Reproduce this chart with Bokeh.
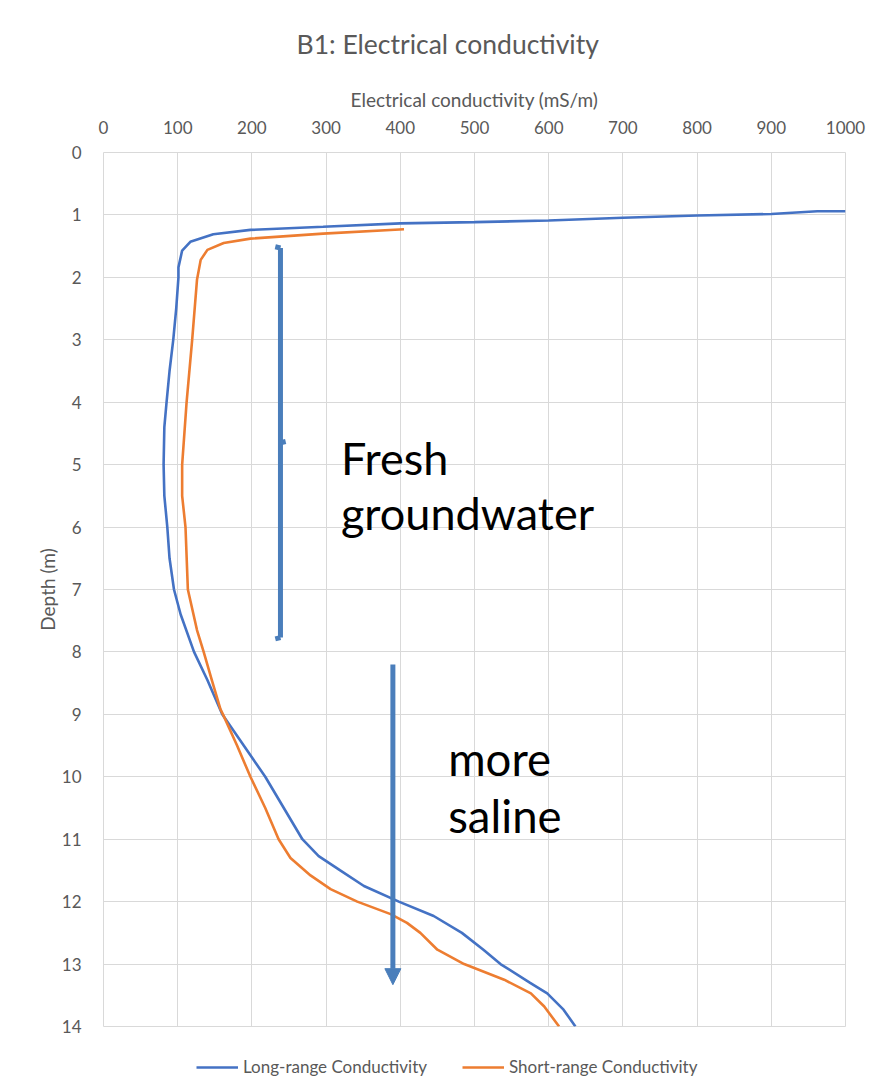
from bokeh.plotting import figure
from bokeh.layouts import column
from bokeh.models import Range1d, FixedTicker, Legend, LegendItem, Arrow, NormalHead, Title
from bokeh.core.properties import value
from bokeh.embed import file_html
from bokeh.resources import INLINE

# ---- data ----
long_x = [1000, 962, 900, 800, 700, 600, 500, 400, 296, 198, 148, 117, 106, 101, 101,
          98, 94, 89, 85, 82, 81, 82, 86, 89, 95, 104, 122, 140, 160, 189, 218, 243,
          268, 290, 319, 351, 398, 445, 483, 512, 535, 575, 598, 620, 636]
long_d = [0.94, 0.94, 0.985, 1.01, 1.045, 1.09, 1.115, 1.135, 1.19, 1.24, 1.31, 1.43, 1.57, 1.84, 2.0,
          2.5, 3.0, 3.5, 4.0, 4.4, 5.0, 5.5, 6.0, 6.5, 7.0, 7.4, 8.0, 8.45, 9.0, 9.5, 10.0, 10.5,
          11.0, 11.27, 11.5, 11.75, 12.0, 12.23, 12.5, 12.77, 13.0, 13.3, 13.47, 13.73, 14.0]

short_x = [405, 296, 198, 162, 140, 131, 126, 119.5, 112, 106, 106, 110.5, 113.7, 126, 135,
           146, 157.7, 161, 180, 198, 218, 236, 252, 279, 306, 342, 387, 409, 427, 450, 486,
           540, 576, 594, 614]
short_d = [1.23, 1.30, 1.38, 1.45, 1.56, 1.72, 2.04, 3.0, 4.0, 5.0, 5.5, 6.0, 7.0, 7.65, 8.0,
           8.45, 8.92, 9.0, 9.5, 10.0, 10.5, 11.0, 11.3, 11.58, 11.8, 12.0, 12.2, 12.34, 12.5, 12.77, 13.0,
           13.25, 13.47, 13.68, 14.0]

x_ticks = [0, 100, 200, 300, 400, 500, 600, 700, 800, 900, 1000]
y_ticks = list(range(0, 15))

title_text = "B1: Electrical conductivity"
x_label = "Electrical conductivity (mS/m)"
y_label = "Depth (m)"
series_names = ["Long-range Conductivity", "Short-range Conductivity"]

# annotations
fresh_x = 238.5
fresh_top, fresh_mid, fresh_bot = 1.53, 4.65, 7.77
saline_x = 390
saline_top, saline_tip = 8.2, 13.33
fresh_text = ["Fresh", "groundwater"]
fresh_text_x = 320
fresh_text_y = [4.89, 5.77]
saline_text = ["more", "saline"]
saline_text_x = 464.5
saline_text_y = [9.70, 10.62]

FONT = "Lato"
GREY = "#595959"
GRID = "#d9d9d9"
BLUE = "#4472c4"
ORANGE = "#ed7d31"
ANN = "#4a7ebb"

p = figure(width=876, height=1042, output_backend="svg", toolbar_location=None,
           x_range=Range1d(0, 1000), y_range=Range1d(14, 0), x_axis_location="above",
           min_border_left=103, min_border_right=31, min_border_top=152, min_border_bottom=16)
p.background_fill_color = "white"
p.border_fill_color = "white"
p.outline_line_color = GRID

t = Title(text=title_text, align="left", offset=193, text_font=FONT, text_font_size="26.5px",
          text_font_style="normal", text_color=GREY, standoff=50)
p.add_layout(t, "above")

for ax in (p.xaxis[0], p.yaxis[0]):
    ax.axis_line_color = None
    ax.major_tick_line_color = None
    ax.minor_tick_line_color = None
    ax.major_label_text_font = FONT
    ax.major_label_text_font_size = "17px"
    ax.major_label_text_color = GREY
    ax.axis_label_text_font = FONT
    ax.axis_label_text_font_size = "19px"
    ax.axis_label_text_font_style = "normal"
    ax.axis_label_text_color = GREY

p.xaxis.ticker = FixedTicker(ticks=x_ticks)
p.yaxis.ticker = FixedTicker(ticks=y_ticks)
p.xaxis.axis_label = x_label
p.yaxis.axis_label = y_label
p.xaxis.major_label_standoff = 13
p.xaxis.axis_label_standoff = 7
p.yaxis.major_label_standoff = 16
p.yaxis.axis_label_standoff = 0

p.xgrid.ticker = FixedTicker(ticks=x_ticks)
p.ygrid.ticker = FixedTicker(ticks=y_ticks)
p.grid.grid_line_color = GRID
p.grid.grid_line_width = 1

r1 = p.line(long_x, long_d, line_color=BLUE, line_width=2.6)
r2 = p.line(short_x, short_d, line_color=ORANGE, line_width=2.6)

# Fresh groundwater bar with small hooks
hook = 7
p.multi_line(xs=[[fresh_x, fresh_x], [fresh_x - hook, fresh_x], [fresh_x - hook, fresh_x], [fresh_x, fresh_x + hook]],
             ys=[[fresh_top, fresh_bot], [fresh_top - 0.02, fresh_top], [fresh_bot + 0.02, fresh_bot], [fresh_mid, fresh_mid - 0.02]],
             line_color=ANN, line_width=5)

arrow = Arrow(end=NormalHead(size=16, fill_color=ANN, line_color=ANN, line_width=1),
              x_start=saline_x, y_start=saline_top, x_end=saline_x, y_end=saline_tip,
              line_color=ANN, line_width=5)
p.add_layout(arrow)

p.text(x=[fresh_text_x] * 2, y=fresh_text_y, text=fresh_text, text_font=value(FONT),
       text_font_size="45px", text_color="black", text_baseline="alphabetic", text_align="left")
p.text(x=[saline_text_x] * 2, y=saline_text_y, text=saline_text, text_font=value(FONT),
       text_font_size="45.5px", text_color="black", text_baseline="alphabetic", text_align="left")

# legend strip below the chart (its frame is aligned with the chart's frame by the column)
lg = figure(width=876, height=50, output_backend="svg", toolbar_location=None,
            x_range=Range1d(5000, 5001), y_range=Range1d(50, 51),
            min_border_left=103, min_border_right=31, min_border_top=0, min_border_bottom=0)
lg.axis.visible = False
lg.grid.visible = False
lg.outline_line_color = None
lg.background_fill_color = "white"
lg.border_fill_color = "white"
l1 = lg.line(long_x, long_d, line_color=BLUE, line_width=2.6)
l2 = lg.line(short_x, short_d, line_color=ORANGE, line_width=2.6)
legend = Legend(items=[LegendItem(label=series_names[0], renderers=[l1]),
                       LegendItem(label=series_names[1], renderers=[l2])],
                orientation="horizontal", location=(93, 15), border_line_color=None,
                background_fill_alpha=0, label_text_font=FONT, label_text_font_size="17px",
                label_text_color=GREY, glyph_width=42, glyph_height=20, label_standoff=5,
                spacing=35, padding=0, margin=0)
lg.add_layout(legend, "center")

layout = column(p, lg, spacing=0)
open("out.html", "w").write(file_html(layout, INLINE))
